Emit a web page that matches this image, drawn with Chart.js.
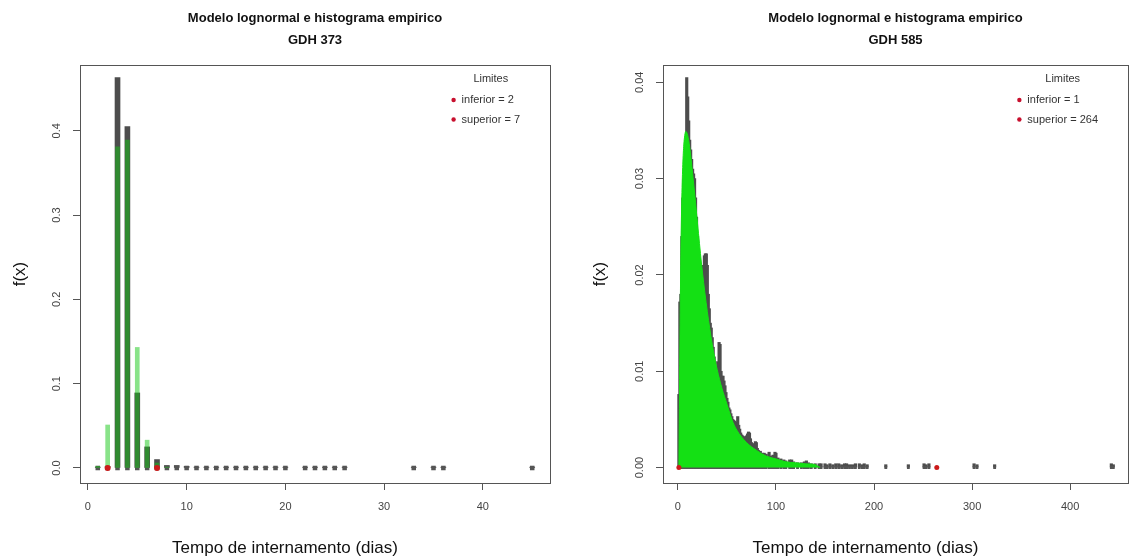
<!DOCTYPE html>
<html lang="pt">
<head>
<meta charset="utf-8">
<title>Modelo lognormal e histograma empirico</title>
<script src="https://cdn.jsdelivr.net/npm/chart.js@4.4.1/dist/chart.umd.min.js"></script>
<style>
    html, body { margin: 0; padding: 0; background: #fff; }
    #wrap { position: relative; width: 1132px; height: 559px; }
    .painel { position: absolute; top: 0; width: 566px; height: 559px; }
</style>
</head>
<body>
<div id="wrap">
    <div class="painel" style="left:0"><canvas id="graf-373" width="566" height="559"></canvas></div>
    <div class="painel" style="left:566px"><canvas id="graf-585" width="566" height="559"></canvas></div>
</div>
<script>
// Modelo lognormal vs histograma empírico - GDH 373 e GDH 585

// =================== DADOS GDH 373 ===================
const diasL = [1, 2, 3, 4, 5, 6, 7, 8, 9, 10, 11, 12, 13, 14, 15, 16, 17, 18, 19, 20, 22, 23, 24, 25, 26, 33, 35, 36, 45];
const histL = [0.001, 0.002, 0.463, 0.405, 0.089, 0.025, 0.010, 0.003, 0.003, 0.002,
               0.001, 0.001, 0.001, 0.001, 0.001, 0.001, 0.001, 0.001, 0.001, 0.001,
               0.001, 0.001, 0.001, 0.001, 0.001, 0.001, 0.001, 0.001, 0.001];
const densDiasL = [1, 2, 3, 4, 5, 6, 7, 8];
const densL = [0.002, 0.051, 0.381, 0.389, 0.143, 0.033, 0.006, 0.001];
const limL = [2, 7];
const legendaL = ['inferior = 2', 'superior = 7'];
const xTicksL = [0, 10, 20, 30, 40];
const yTicksL = [0, 0.1, 0.2, 0.3, 0.4];
const yRotulosL = ['0.0', '0.1', '0.2', '0.3', '0.4'];

// =================== DADOS GDH 585 ===================
// histR: frequência relativa para os dias 1, 2, 3, ... 81
const histR = [0.0076, 0.0172, 0.018, 0.024, 0.028, 0.030, 0.032, 0.034, 0.0405, 0.0385,
               0.036, 0.034, 0.033, 0.032, 0.031, 0.0305, 0.030, 0.028, 0.026, 0.024,
               0.022, 0.0205, 0.0195, 0.0205, 0.021, 0.021, 0.022, 0.0222, 0.0222, 0.021,
               0.018, 0.0165, 0.015, 0.0145, 0.0135, 0.0125, 0.0115, 0.011, 0.0105, 0.0105,
               0.011, 0.013, 0.0128, 0.010, 0.0095, 0.0095, 0.009, 0.0085, 0.0078, 0.0072,
               0.0068, 0.0062, 0.006, 0.0056, 0.0053, 0.005, 0.0049, 0.0048, 0.0047, 0.0046,
               0.0053, 0.0044, 0.004, 0.0036, 0.0034, 0.0033, 0.0032, 0.0032, 0.003, 0.0033,
               0.0035, 0.0037, 0.0036, 0.003, 0.0026, 0.0024, 0.0024, 0.0025, 0.0027, 0.0026,
               0.002];
// cauda da distribuição (dias esparsos)
const caudaDiasR = [82, 84, 86, 88, 90, 93, 95, 97, 99, 100, 102, 105, 108, 110, 114, 116, 118, 122, 126, 129,
                    131, 133, 136, 140, 144, 146, 150, 152, 155, 158, 161, 164, 167, 170, 172, 175, 178, 181,
                    185, 188, 190, 193, 212, 235, 251, 253, 256, 302, 305, 323, 442, 444];
const caudaR = [0.0018, 0.0017, 0.0015, 0.0015, 0.0014, 0.0016, 0.0012, 0.0013, 0.0016, 0.0015,
                0.001, 0.0009, 0.0008, 0.0007, 0.0008, 0.0008, 0.0006, 0.0005, 0.0005, 0.0006,
                0.0007, 0.0005, 0.0004, 0.0004, 0.0004, 0.0004, 0.0004, 0.0003, 0.0004, 0.0003,
                0.0004, 0.0004, 0.0003, 0.0004, 0.0004, 0.0003, 0.0003, 0.0004, 0.0004, 0.0003,
                0.0004, 0.0003, 0.0003, 0.0003, 0.0004, 0.0003, 0.0004, 0.0004, 0.0003, 0.0003,
                0.0004, 0.0003];
const densDiasR = [1, 2, 3, 4, 5, 6, 7, 8, 9, 10, 12, 15, 18, 21, 25, 30, 35, 40, 45, 50,
                   55, 60, 70, 80, 90, 100, 110, 120, 130, 140, 145];
const densR = [0, 0.012, 0.022, 0.028, 0.0315, 0.0335, 0.0345, 0.0349, 0.0348, 0.0345, 0.0333, 0.0305,
               0.0275, 0.0243, 0.0203, 0.0162, 0.0128, 0.0102, 0.0082, 0.0066, 0.005, 0.0039,
               0.0026, 0.0018, 0.0012, 0.0009, 0.0006, 0.0005, 0.0004, 0.0003, 0];
const limR = [1, 264];
const legendaR = ['inferior = 1', 'superior = 264'];
const xTicksR = [0, 100, 200, 300, 400];
const yTicksR = [0, 0.01, 0.02, 0.03, 0.04];
const yRotulosR = ['0.00', '0.01', '0.02', '0.03', '0.04'];

const FONTE = '"Liberation Sans", Arial, Helvetica, sans-serif';
Chart.defaults.font.family = FONTE;

// =================== PLUGINS ===================

// Caixa do gráfico, rótulos do eixo y rodados e título do eixo x (estilo R)
const caixaPlugin = {
    id: 'caixa',
    afterDraw(chart, args, opts) {
        const { ctx, chartArea: a } = chart;
        const ys = chart.scales.y;
        ctx.save();
        ctx.strokeStyle = '#555';
        ctx.lineWidth = 1;
        ctx.strokeRect(Math.round(a.left) + 0.5, Math.round(a.top) + 0.5,
                       Math.round(a.right - a.left), Math.round(a.bottom - a.top));

        ctx.fillStyle = '#444';
        ctx.font = '11px ' + FONTE;
        ctx.textAlign = 'center';
        ctx.textBaseline = 'middle';
        opts.valores.forEach((v, i) => {
            ctx.save();
            ctx.translate(a.left - 23, ys.getPixelForValue(v));
            ctx.rotate(-Math.PI / 2);
            ctx.fillText(opts.rotulos[i], 0, 0);
            ctx.restore();
        });

        // título do eixo x (ligeiramente deslocado para a esquerda, como no original)
        ctx.fillStyle = '#111';
        ctx.font = '17px ' + FONTE;
        ctx.fillText(opts.tituloX, (a.left + a.right) / 2 - 30, 548);
        ctx.restore();
    }
};

// Legenda "Limites" no canto superior direito
const legendaPlugin = {
    id: 'limites',
    afterDraw(chart, args, opts) {
        const { ctx, chartArea: a } = chart;
        ctx.save();
        ctx.font = '11px ' + FONTE;
        const larg = Math.max(...opts.itens.map(t => ctx.measureText(t).width));
        const tx = a.right - larg - 30;
        ctx.fillStyle = '#333';
        ctx.textBaseline = 'middle';
        ctx.textAlign = 'center';
        ctx.fillText(opts.titulo, tx + larg / 2, a.top + 14);
        ctx.textAlign = 'left';
        opts.itens.forEach((t, i) => {
            const py = a.top + 35 + i * 19.5;
            ctx.fillStyle = '#c8102e';
            ctx.beginPath();
            ctx.arc(tx - 8, py, 2.2, 0, Math.PI * 2);
            ctx.fill();
            ctx.fillStyle = '#333';
            ctx.fillText(t, tx, py);
        });
        ctx.restore();
    }
};

// =================== GRÁFICOS ===================

function pontos(xs, ys) {
    return xs.map((x, i) => ({ x: x, y: ys ? ys[i] : 0 }));
}

function criarGrafico(id, cfg) {
    const ctx = document.getElementById(id);
    return new Chart(ctx, {
        type: 'bar',
        data: { datasets: cfg.datasets },
        options: {
            responsive: false,
            animation: false,
            events: [],
            layout: { padding: { left: 0, right: cfg.padDir, top: 0, bottom: 0 } },
            plugins: {
                legend: { display: false },
                tooltip: { enabled: false },
                title: {
                    display: true,
                    fullSize: false,
                    text: ['Modelo lognormal e histograma empirico', cfg.gdh],
                    color: '#111',
                    font: { size: 13, weight: 'bold', lineHeight: 22 / 13 },
                    padding: { top: 7, bottom: 14 }
                },
                caixa: { valores: cfg.yTicks, rotulos: cfg.yRotulos, tituloX: 'Tempo de internamento (dias)' },
                limites: { titulo: 'Limites', itens: cfg.legenda }
            },
            scales: {
                x: {
                    type: 'linear',
                    min: cfg.xMin,
                    max: cfg.xMax,
                    offset: false,
                    afterBuildTicks: s => { s.ticks = cfg.xTicks.map(v => ({ value: v })); },
                    afterFit: s => { s.height = 76; },
                    grid: { display: true, offset: false, drawOnChartArea: false, drawTicks: true, tickLength: 7, color: '#555' },
                    border: { display: false },
                    ticks: { color: '#444', font: { size: 11 }, padding: 10, autoSkip: false, maxRotation: 0, callback: v => String(v) },
                    title: { display: false }
                },
                y: {
                    type: 'linear',
                    min: cfg.yMin,
                    max: cfg.yMax,
                    afterBuildTicks: s => { s.ticks = cfg.yTicks.map(v => ({ value: v })); },
                    afterFit: s => { s.width = cfg.larguraY; },
                    grid: { display: true, drawOnChartArea: false, drawTicks: true, tickLength: 7, color: '#555' },
                    border: { display: false },
                    ticks: { display: false },
                    title: {
                        display: true,
                        text: 'f(x)',
                        color: '#111',
                        font: { size: 17 },
                        padding: { top: cfg.padTituloY, bottom: 0 }
                    }
                }
            }
        },
        plugins: [caixaPlugin, legendaPlugin]
    });
}

function initGraficos() {
    // GDH 373
    criarGrafico('graf-373', {
        gdh: 'GDH 373',
        xMin: -0.8, xMax: 46.8, yMin: -0.0178, yMax: 0.478,
        xTicks: xTicksL, yTicks: yTicksL, yRotulos: yRotulosL,
        legenda: legendaL, larguraY: 80, padDir: 16, padTituloY: 9.8,
        datasets: [
            {
                type: 'scatter', label: 'Limites', data: pontos(limL),
                pointStyle: 'circle', pointRadius: 3, backgroundColor: '#cc1a1a', borderWidth: 0, order: 0
            },
            {
                type: 'bar', label: 'Lognormal', data: pontos(densDiasL, densL),
                backgroundColor: 'rgba(20,200,20,0.5)', barThickness: 4, grouped: false, order: 1
            },
            {
                type: 'scatter', label: 'Observados', data: pontos(diasL),
                pointStyle: 'rect', pointRadius: 3.2, backgroundColor: '#555', borderWidth: 0, order: 2
            },
            {
                type: 'bar', label: 'Empírico', data: pontos(diasL, histL),
                backgroundColor: '#4d4d4d', barThickness: 5, grouped: false, order: 3
            }
        ]
    });

    // GDH 585
    const diasR = histR.map((v, i) => i + 1).concat(caudaDiasR);
    const freqR = histR.concat(caudaR);
    criarGrafico('graf-585', {
        gdh: 'GDH 585',
        xMin: -15.2, xMax: 459, yMin: -0.0016, yMax: 0.0418,
        xTicks: xTicksR, yTicks: yTicksR, yRotulos: yRotulosR,
        legenda: legendaR, larguraY: 97, padDir: 3, padTituloY: 23.8,
        datasets: [
            {
                type: 'scatter', label: 'Limites', data: pontos(limR),
                pointStyle: 'circle', pointRadius: 2.5, backgroundColor: '#cc1a1a', borderWidth: 0, order: 0
            },
            {
                type: 'line', label: 'Lognormal', data: pontos(densDiasR, densR),
                borderColor: '#14e014', backgroundColor: '#14e014', borderWidth: 1,
                fill: 'origin', pointRadius: 0, cubicInterpolationMode: 'monotone', order: 1
            },
            {
                type: 'scatter', label: 'Observados', data: pontos(diasR),
                pointStyle: 'rect', pointRadius: 2, backgroundColor: '#555', borderWidth: 0, order: 2
            },
            {
                type: 'bar', label: 'Empírico', data: pontos(diasR, freqR),
                backgroundColor: '#4d4d4d', barThickness: 2.5, grouped: false, order: 3
            }
        ]
    });
}

initGraficos();
</script>
</body>
</html>
